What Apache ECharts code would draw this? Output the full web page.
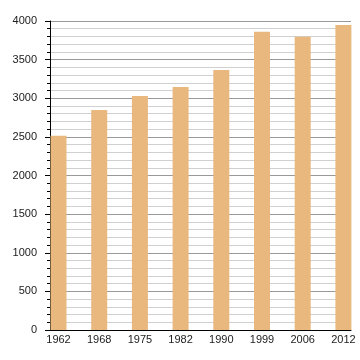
<!DOCTYPE html>
<html>
<head>
<meta charset="utf-8">
<script src="https://cdn.jsdelivr.net/npm/echarts@6/dist/echarts.min.js"></script>
<style>html,body{margin:0;padding:0;background:#fff}#c{width:360px;height:360px}</style>
</head>
<body>
<div id="c"></div>
<script>
const years = ['1962', '1968', '1975', '1982', '1990', '1999', '2006', '2012'];
const population = [2515, 2848, 3029, 3146, 3366, 3862, 3797, 3948];
const yTicks = [0, 500, 1000, 1500, 2000, 2500, 3000, 3500, 4000];

const chart = echarts.init(document.getElementById('c'), null, {renderer: 'canvas'});
const idx = years.map((_, i) => i);
chart.setOption({
  animation: false,
  grid: {left: 50, right: 9, top: 21, bottom: 30, containLabel: false},
  xAxis: {
    type: 'value',
    min: -0.209,
    max: 7.187,
    axisLine: {show: true, onZero: false, lineStyle: {color: '#000', width: 1}},
    axisTick: {show: false},
    splitLine: {show: false},
    axisLabel: {
      customValues: idx,
      formatter: v => years[Math.round(v)],
      color: '#222', fontSize: 11, fontFamily: 'Liberation Sans, Arial, sans-serif', margin: 4
    }
  },
  yAxis: {
    type: 'value',
    min: yTicks[0],
    max: yTicks[yTicks.length - 1],
    interval: 500,
    axisLine: {show: true, onZero: false, lineStyle: {color: '#000', width: 1}},
    axisTick: {show: true, length: 5, lineStyle: {color: '#000'}},
    minorTick: {show: true, splitNumber: 5, length: 3, lineStyle: {color: '#000'}},
    splitLine: {show: true, lineStyle: {color: '#999', width: 1}},
    minorSplitLine: {show: true, lineStyle: {color: '#d0d0d0', width: 1}},
    axisLabel: {
      formatter: v => String(v),
      color: '#222', fontSize: 11, fontFamily: 'Liberation Sans, Arial, sans-serif', margin: 13
    }
  },
  series: [{
    type: 'bar',
    barWidth: 16,
    itemStyle: {color: '#e8b87f'},
    data: population.map((v, i) => [i, v])
  }]
});
</script>
</body>
</html>
